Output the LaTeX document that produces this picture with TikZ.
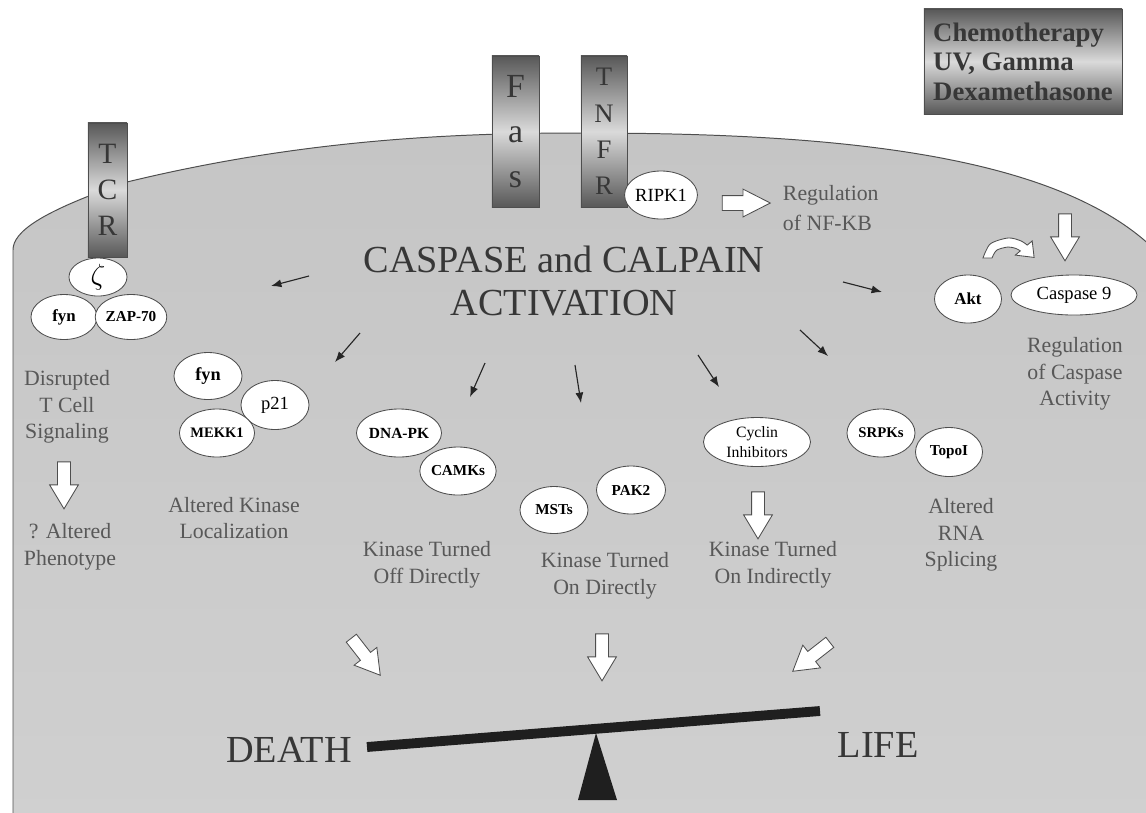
\documentclass[tikz,border=0pt]{standalone}
\usepackage{fontspec}
\setmainfont{Liberation Serif}
\usetikzlibrary{arrows.meta, shapes.geometric, shapes.arrows}

\definecolor{cellgray}{RGB}{197,197,197}
\definecolor{celllight}{RGB}{208,208,208}
\definecolor{inkgray}{RGB}{88,88,88}
\definecolor{titlegray}{RGB}{55,55,55}
\definecolor{rimgray}{RGB}{78,78,78}
\definecolor{bardark}{RGB}{88,88,88}
\definecolor{barlight}{RGB}{218,218,218}

\tikzset{
  prot/.style={ellipse, draw=rimgray, fill=white, line width=0.6pt, inner sep=0pt, text=black, align=center},
  protb/.style={prot, font=\bfseries\fontsize{10.8}{12}\selectfont},
  protr/.style={prot, font=\fontsize{13.2}{14}\selectfont},
  receptor/.style={rectangle, draw=rimgray, line width=0.6pt, top color=bardark, bottom color=bardark, middle color=barlight, text=titlegray, align=center, inner sep=0pt},
  note/.style={text=inkgray, align=center, font=\fontsize{15.5}{19}\selectfont},
  openarrow/.style={single arrow, draw=rimgray, fill=white, line width=0.6pt, inner sep=0.15cm, minimum height=1.175cm, single arrow head extend=0.2cm, single arrow tip angle=62},
  pointer/.style={-{Latex[length=2.6mm,width=2mm]}, line width=0.8pt, draw=black!85}
}

\begin{document}
\begin{tikzpicture}[x=0.025cm, y=-0.025cm]
    \useasboundingbox (0,0) rectangle (1146,812);
    \clip (0,0) rectangle (1146,812);
    % cell body
    \path[top color=cellgray, bottom color=celllight] (13,830) -- (13,250) .. controls (13,232) and (40,212) .. (127,182) .. controls (300,140) and (450,133) .. (580,133) .. controls (820,133) and (1060,150) .. (1160,255) -- (1160,830) -- cycle;
    \draw[rimgray, line width=0.7pt] (13,830) -- (13,250) .. controls (13,232) and (40,212) .. (127,182) .. controls (300,140) and (450,133) .. (580,133) .. controls (820,133) and (1060,150) .. (1160,255);
    % receptors
    \node[receptor, minimum width=0.975cm, minimum height=3.35cm, font=\fontsize{21}{25.5}\selectfont] (tcr) at (107.5,190) {T\\C\\R};
    \node[receptor, minimum width=1.175cm, minimum height=3.775cm, font=\fontsize{24}{32}\selectfont] (fas) at (515.5,131.5) {F\\a\\s};
    \node[receptor, minimum width=1.15cm, minimum height=3.775cm, font=\fontsize{19}{25.8}\selectfont] (tnfr) at (604,131.5) {T\\N\\F\\R};
    \node[receptor, minimum width=4.95cm, minimum height=2.625cm, align=left, font=\bfseries\fontsize{19}{21}\selectfont] (chemo) at (1023,61.5) {Chemotherapy\\UV, Gamma\\Dexamethasone};
    % TCR complex
    \node[prot, minimum width=1.45cm, minimum height=0.95cm, font=\fontsize{20}{20}\selectfont] (zeta) at (98,277) {$\zeta$};
    \node[protb, minimum width=1.65cm, minimum height=1.125cm, font=\bfseries\fontsize{12}{13}\selectfont] (fynA) at (64,317) {fyn};
    \node[protb, minimum width=1.7cm, minimum height=1.125cm] (zap) at (131,317) {ZAP-70};
    % centre
    \node[font=\fontsize{27.2}{31.2}\selectfont, text=titlegray, align=center] (title) at (564,281) {CASPASE and CALPAIN\\ACTIVATION};
    \node[protr, minimum width=1.7cm, minimum height=1.2cm] (ripk) at (661,195) {RIPK1};
    \node[openarrow, minimum height=1.2cm, inner sep=0.175cm, single arrow head extend=0.1625cm, single arrow tip angle=54] (nfarrow) at (739,203) {};
    \node[note, anchor=west, align=left, font=\fontsize{15.5}{21}\selectfont] (nfkb) at (778,208) {Regulation\\of NF-KB};
    % kinase groups
    \node[protb, minimum width=1.7cm, minimum height=1.175cm, font=\bfseries\fontsize{13}{14}\selectfont] (fynB) at (208,376) {fyn};
    \node[protr, minimum width=1.7cm, minimum height=1.225cm] (p21) at (275,405) {p21};
    \node[protb, minimum width=1.7cm, minimum height=1.2cm, font=\bfseries\fontsize{10.3}{11}\selectfont] (mekk) at (217,433) {MEKK1};
    \node[protb, minimum width=1.7cm, minimum height=1.2cm, font=\bfseries\fontsize{11}{12}\selectfont] (dnapk) at (399,433) {DNA-PK};
    \node[protb, minimum width=1.725cm, minimum height=1.2cm] (camk) at (458,471) {CAMKs};
    \node[protb, minimum width=1.7cm, minimum height=1.175cm] (mst) at (554,510) {MSTs};
    \node[protb, minimum width=1.725cm, minimum height=1.2cm] (pak) at (631,490) {PAK2};
    \node[prot, minimum width=2.675cm, minimum height=1.225cm, font=\fontsize{11.2}{13.7}\selectfont] (cyclin) at (757,442) {Cyclin\\Inhibitors};
    \node[protb, minimum width=1.7cm, minimum height=1.2cm, font=\bfseries\fontsize{10.5}{12}\selectfont] (srpk) at (881,433) {SRPKs};
    \node[protb, minimum width=1.675cm, minimum height=1.225cm] (topo) at (949,452) {TopoI};
    \node[protb, minimum width=1.675cm, minimum height=1.2cm, font=\bfseries\fontsize{12}{13}\selectfont] (akt) at (968,299) {Akt};
    \node[protr, minimum width=3.15cm, minimum height=1.0cm] (casp) at (1074,295) {Caspase 9};
    % labels
    \node[note] (tcell) at (67,407) {Disrupted\\T Cell\\Signaling};
    \node[note] (pheno) at (70,547) {? Altered\\Phenotype};
    \node[note] (local) at (234,518) {Altered Kinase\\Localization};
    \node[note] (offd) at (427,565) {Kinase Turned\\Off Directly};
    \node[note] (ond) at (605,576) {Kinase Turned\\On Directly};
    \node[note] (onind) at (773,565) {Kinase Turned\\On Indirectly};
    \node[note] (rna) at (961,535) {Altered\\RNA\\Splicing};
    \node[note] (casreg) at (1075,374) {Regulation\\of Caspase\\Activity};
    % small arrows from the title
    \foreach \n/\ax/\ay/\bx/\by in {1/309/276/271/286, 2/843/282/882/292, 3/360/333/335/362, 4/485/363/470/397, 5/575/365/581/403, 6/698/355/719/387, 7/800/330/828/356}{
        \coordinate (p\n) at (\ax,\ay);
        \coordinate (q\n) at (\bx,\by);
        \draw[pointer] (p\n) -- (q\n);
    }
    % open block arrows
    \node[openarrow, rotate=-90] (tcrarrow) at (64,480) {};
    \node[openarrow, rotate=-90] (cycarrow) at (758,510) {};
    \node[openarrow, rotate=-90] (casparrow) at (1065,232) {};
    \node[openarrow, rotate=-52] (deatharrow) at (362.5,652.5) {};
    \node[openarrow, rotate=-90] (midarrow) at (602,652) {};
    \node[openarrow, rotate=218] (lifearrow) at (815.5,653.5) {};
    % bent arrow over Akt
    \filldraw[fill=white, draw=rimgray, line width=0.6pt] plot[smooth] coordinates {(983,258) (990.3,243.9) (1008,238) (1020.5,240.7) (1027.2,245.1)} -- (1032.2,240.9) -- (1034.1,257.4) -- (1015.3,255.1) -- plot[smooth] coordinates {(1020.3,250.9) (1016,248.5) (1008,247) (996.7,250.2) (992,258)} -- cycle;
    % balance
    \node[font=\fontsize{27.2}{30}\selectfont, text=titlegray] (death) at (289,750) {DEATH};
    \node[font=\fontsize{27.2}{30}\selectfont, text=titlegray] (life) at (878,745) {LIFE};
    \fill[black!88] (596,733) -- (617,800) -- (578,800) -- cycle;
    \coordinate (beamL) at (367,747);
    \coordinate (beamR) at (820,711);
    \draw[line width=7pt, black!88] (beamL) -- (beamR);
\end{tikzpicture}
\end{document}
